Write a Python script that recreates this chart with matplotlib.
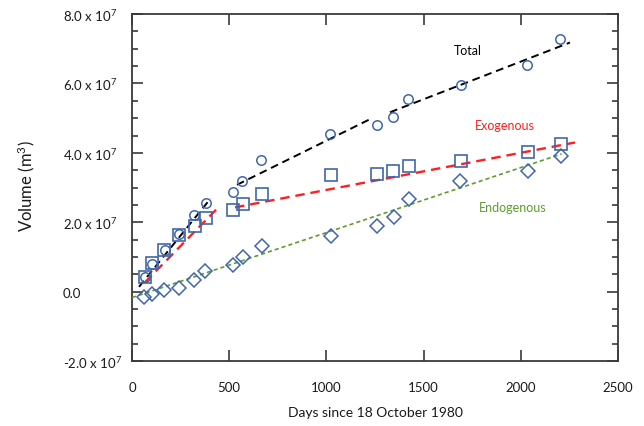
import matplotlib
matplotlib.use("Agg")
import matplotlib.pyplot as plt
from matplotlib.ticker import MultipleLocator, FixedLocator

plt.rcParams['font.family'] = ['Lato', 'DejaVu Sans']
plt.rcParams['mathtext.fontset'] = 'custom'
plt.rcParams['mathtext.rm'] = 'Lato'
plt.rcParams['mathtext.it'] = 'Lato:italic'

# ---- data (days, volume in 1e7 m^3) ----
total_days = [67, 104, 170, 243, 320, 381, 518, 564, 665, 1019, 1262, 1341, 1422, 1692, 2030, 2204]
total_vol = [0.41, 0.80, 1.20, 1.66, 2.21, 2.56, 2.88, 3.20, 3.79, 4.54, 4.80, 5.03, 5.54, 5.97, 6.54, 7.28]

exo_days = [67, 104, 166, 240, 324, 381, 521, 573, 667, 1025, 1259, 1344, 1427, 1692, 2039, 2205]
exo_vol = [0.41, 0.82, 1.20, 1.63, 1.90, 2.11, 2.36, 2.53, 2.82, 3.36, 3.38, 3.48, 3.61, 3.77, 4.03, 4.25]

endo_days = [62, 104, 166, 242, 319, 374, 521, 569, 670, 1022, 1259, 1346, 1423, 1687, 2035, 2205]
endo_vol = [-0.16, -0.07, 0.05, 0.12, 0.34, 0.59, 0.77, 0.99, 1.31, 1.60, 1.90, 2.14, 2.67, 3.18, 3.47, 3.92]

# fitted trend segments: (start day, end day, start vol, end vol)
total_fits = [(36, 405, 0.14, 2.69), (540, 1224, 3.08, 4.97), (1327, 2253, 5.17, 7.18)]
exo_fits = [(67, 453, 0.27, 2.48), (530, 2279, 2.43, 4.30)]
endo_fits = [(0, 2210, -0.17, 3.97)]

yticks = [-2, 0, 2, 4, 6, 8]
ytick_labels = [r'-2.0 x 10$^{7}$', '0.0', r'2.0 x 10$^{7}$', r'4.0 x 10$^{7}$',
                r'6.0 x 10$^{7}$', r'8.0 x 10$^{7}$']
xticks = [0, 500, 1000, 1500, 2000, 2500]

marker_col = '#4166ab'
green = '#5e9d2c'
red = '#ff1f1f'

fig = plt.figure(figsize=(6.44, 4.27), dpi=100)
ax = fig.add_axes([0.205, 0.152, 0.7546, 0.8127])

for (x0, x1, y0, y1) in total_fits:
    ax.plot([x0, x1], [y0, y1], color='black', lw=1.4, dashes=(4, 2.5), zorder=3)
for (x0, x1, y0, y1) in exo_fits:
    ax.plot([x0, x1], [y0, y1], color=red, lw=1.7, dashes=(4, 2.5), zorder=3)
for (x0, x1, y0, y1) in endo_fits:
    ax.plot([x0, x1], [y0, y1], color=green, lw=1.2, dashes=(2.5, 1.8), zorder=3)

ax.plot(total_days, total_vol, 'o', ms=6.8, mfc='none', mec=marker_col, mew=1.1, zorder=4)
ax.plot(exo_days, exo_vol, 's', ms=8.5, mfc='none', mec=marker_col, mew=1.2, zorder=4)
ax.plot(endo_days, endo_vol, 'D', ms=6.8, mfc='none', mec=marker_col, mew=1.1, zorder=4)

ax.text(1655, 6.97, 'Total', color='black', fontsize=9, ha='left', va='center')
ax.text(1765, 4.8, 'Exogenous', color=red, fontsize=9, ha='left', va='center')
ax.text(1785, 2.45, 'Endogenous', color=green, fontsize=9, ha='left', va='center')

ax.set_xlim(0, 2500)
ax.set_ylim(-2, 8)
ax.xaxis.set_major_locator(FixedLocator(xticks))
ax.set_xticklabels([str(t) for t in xticks])
ax.yaxis.set_major_locator(FixedLocator(yticks))
ax.yaxis.set_minor_locator(MultipleLocator(0.5))
ax.set_yticklabels(ytick_labels)

spine_col = '#3a3a3a'
for s in ax.spines.values():
    s.set_color(spine_col)
    s.set_linewidth(1.3)

ax.tick_params(which='both', direction='in', top=True, right=True, colors=spine_col,
               labelcolor='#1a1a1a', labelsize=9.5)
ax.tick_params(which='major', length=8, width=1.2)
ax.tick_params(which='minor', length=4, width=1.2)
ax.tick_params(axis='x', pad=14)
ax.tick_params(axis='y', pad=50)
for lbl in ax.get_yticklabels():
    lbl.set_horizontalalignment('left')

ax.set_xlabel('Days since 18 October 1980', fontsize=10, labelpad=10, color='#1a1a1a')
fig.text(0.04, 0.565, r'Volume (m$^{3}$)', rotation=90, fontsize=12, ha='center', va='center',
         color='#1a1a1a')

fig.savefig('out.png', dpi=100)
